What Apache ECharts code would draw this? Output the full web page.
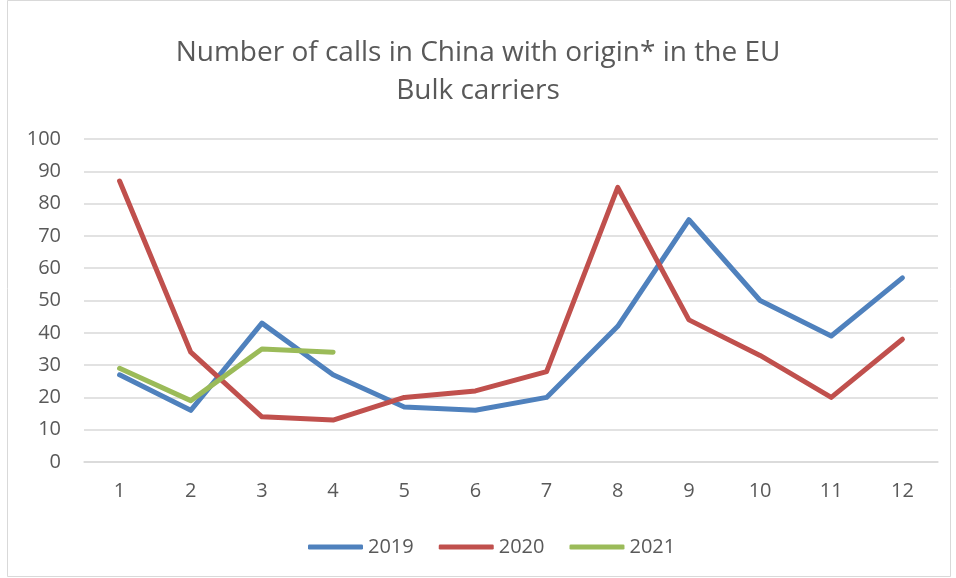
<!DOCTYPE html>
<html>
<head>
<meta charset="utf-8">
<script src="https://cdn.jsdelivr.net/npm/echarts@6/dist/echarts.min.js"></script>
<style>
  html, body { margin: 0; padding: 0; background: #fff; }
  #chart { width: 956px; height: 578px; }
</style>
</head>
<body>
<div id="chart"></div>
<script>
// Months and monthly call counts per year
const months = ['1', '2', '3', '4', '5', '6', '7', '8', '9', '10', '11', '12'];
const calls2019 = [27, 16, 43, 27, 17, 16, 20, 42, 75, 50, 39, 57];
const calls2020 = [87, 34, 14, 13, 20, 22, 28, 85, 44, 33, 20, 38];
const calls2021 = [29, 19, 35, 34];

const textColor = '#595959';
const fontFamily = 'Open Sans, Liberation Sans, sans-serif';

function lineSeries(name, data, color) {
  return {
    name: name,
    type: 'line',
    data: data,
    showSymbol: false,
    symbol: 'none',
    lineStyle: { width: 5, color: color, cap: 'round', join: 'round' },
    itemStyle: { color: color }
  };
}

const chart = echarts.init(document.getElementById('chart'), null, { renderer: 'canvas' });
chart.setOption({
  animation: false,
  backgroundColor: '#fff',
  graphic: [{
    type: 'rect',
    shape: { x: 7.5, y: 0.5, width: 943, height: 576 },
    style: { fill: 'none', stroke: '#d9d9d9', lineWidth: 1 },
    silent: true
  }],
  title: {
    text: 'Number of calls in China with origin* in the EU\nBulk carriers',
    left: 'center',
    top: 29,
    textStyle: {
      color: textColor,
      fontFamily: fontFamily,
      fontSize: 28,
      fontWeight: 'normal',
      lineHeight: 38
    }
  },
  legend: {
    bottom: 16,
    left: 303,
    itemWidth: 55,
    itemHeight: 5,
    itemGap: 25,
    icon: 'roundRect',
    textStyle: { color: textColor, fontFamily: fontFamily, fontSize: 20 },
    data: ['2019', '2020', '2021']
  },
  grid: { left: 84, right: 18, top: 139, bottom: 116 },
  xAxis: {
    type: 'category',
    data: months,
    boundaryGap: true,
    axisLine: { show: true, lineStyle: { color: '#d9d9d9', width: 1.5 } },
    axisTick: { show: false },
    axisLabel: { color: textColor, fontFamily: fontFamily, fontSize: 20, margin: 19 }
  },
  yAxis: {
    type: 'value',
    min: 0,
    max: 100,
    interval: 10,
    axisLine: { show: false },
    axisTick: { show: false },
    axisLabel: { color: textColor, fontFamily: fontFamily, fontSize: 20, margin: 23 },
    splitLine: { lineStyle: { color: '#d9d9d9', width: 1.5 } }
  },
  series: [
    lineSeries('2019', calls2019, '#4F81BD'),
    lineSeries('2020', calls2020, '#C0504D'),
    lineSeries('2021', calls2021, '#9BBB59')
  ]
});
</script>
</body>
</html>
